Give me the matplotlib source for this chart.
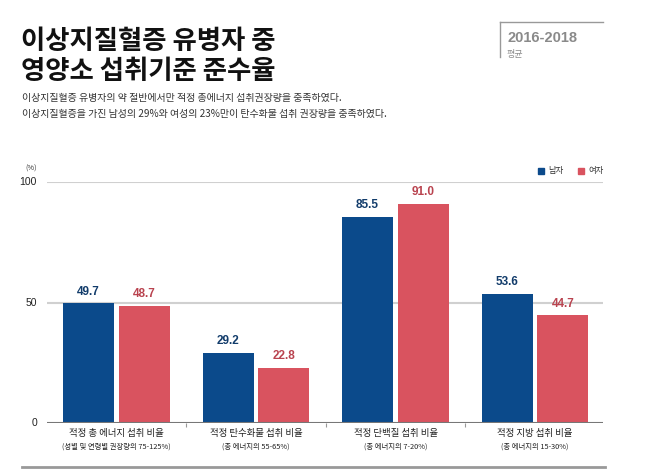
import matplotlib.pyplot as plt
import numpy as np
from matplotlib.lines import Line2D
from matplotlib.patches import Rectangle
from matplotlib.transforms import blended_transform_factory

plt.rcParams['font.family'] = ['Noto Sans CJK KR', 'DejaVu Sans']
latin = ['Liberation Sans', 'DejaVu Sans']

# data
categories = ["적정 총 에너지 섭취 비율", "적정 탄수화물 섭취 비율",
              "적정 단백질 섭취 비율", "적정 지방 섭취 비율"]
sub_labels = ["(성별 및 연령별 권장량의 75-125%)", "(총 에너지의 55-65%)",
              "(총 에너지의 7-20%)", "(총 에너지의 15-30%)"]
male = [49.7, 29.2, 85.5, 53.6]
female = [48.7, 22.8, 91.0, 44.7]
y_ticks = [0, 50, 100]

W, H = 658, 476
blue = "#0b4a8b"
red = "#d9535f"

fig = plt.figure(figsize=(W / 100, H / 100), dpi=100)


def px(x, y):
    # pixel coords (from top left) -> figure fraction
    return x / W, 1 - y / H


# title block
fig.text(*px(21, 49), "이상지질혈증 유병자 중", fontsize=19, fontweight='heavy',
         color="#111111", va='baseline')
fig.text(*px(21, 79), "영양소 섭취기준 준수율", fontsize=19, fontweight='heavy',
         color="#111111", va='baseline')
fig.text(*px(22, 101), "이상지질혈증 유병자의 약 절반에서만 적정 총에너지 섭취권장량을 충족하였다.",
         fontsize=7.2, color="#333333", va='baseline')
fig.text(*px(22, 117), "이상지질혈증을 가진 남성의 29%와 여성의 23%만이 탄수화물 섭취 권장량을 충족하였다.",
         fontsize=7.2, color="#333333", va='baseline')

# year box
fig.add_artist(Line2D([500 / W, 603 / W], [1 - 22 / H, 1 - 22 / H], color="#999999", lw=1))
fig.add_artist(Line2D([500 / W, 500 / W], [1 - 22 / H, 1 - 57 / H], color="#999999", lw=1))
fig.text(*px(507, 42), "2016-2018", fontsize=10.5, fontweight='bold', color="#8a8a8a",
         va='baseline', family=latin)
fig.text(*px(507, 57), "평균", fontsize=6.5, color="#8a8a8a", va='baseline')

# legend
fig.add_artist(Rectangle(px(538, 174), 6 / W, 6 / H, color=blue))
fig.text(*px(548, 171), "남자", fontsize=6, color="#333333", va='center')
fig.add_artist(Rectangle(px(578, 174), 6 / W, 6 / H, color=red))
fig.text(*px(588, 171), "여자", fontsize=6, color="#333333", va='center')

# footer line
fig.add_artist(Line2D([22 / W, 605 / W], [1 - 467 / H, 1 - 467 / H], color="#999999", lw=2))

# chart
ax = fig.add_axes([47 / W, 1 - 423 / H, 556 / W, 241 / H])
x = np.arange(len(categories))
bw = 0.366
off = 0.2
ax.bar(x - off, male, bw, color=blue, zorder=3)
ax.bar(x + off, female, bw, color=red, zorder=3)

for i in range(len(x)):
    ax.annotate(f"{male[i]:.1f}", (x[i] - off, male[i]), xytext=(0, 4), textcoords='offset points',
                ha='center', va='bottom', fontsize=8.5, fontweight='bold', color="#123c6b", family=latin)
    ax.annotate(f"{female[i]:.1f}", (x[i] + off, female[i]), xytext=(0, 4), textcoords='offset points',
                ha='center', va='bottom', fontsize=8.5, fontweight='bold', color="#b9434f", family=latin)

ax.set_xlim(-0.498, 3.487)
ax.set_ylim(0, 100)
for v in y_ticks[1:]:
    ax.axhline(v, color="#d0d0d0", lw=1.5, zorder=1)
ax.axhline(0, color="#777777", lw=1.5, zorder=4)

for s in ax.spines.values():
    s.set_visible(False)
ax.set_xticks([0.5, 1.5, 2.5])
ax.set_xticklabels([])
ax.tick_params(axis='x', length=3, color="#999999", direction='out')
ax.set_yticks([])

trans = blended_transform_factory(ax.transData, ax.transAxes)
for i, (c, s) in enumerate(zip(categories, sub_labels)):
    ax.text(x[i], -0.0456, c, transform=trans, ha='center', va='center', fontsize=6.8, color="#222222")
    ax.text(x[i], -0.0996, s, transform=trans, ha='center', va='center', fontsize=5.3, color="#222222")

for v in y_ticks:
    fig.text(*px(37, 423 - v * 2.41), str(v), fontsize=7.5, color="#222222", ha='right',
             va='center', family=latin)
fig.text(*px(37, 169), "(%)", fontsize=5.3, color="#333333", ha='right', va='center')

fig.savefig("out.png", dpi=100)
